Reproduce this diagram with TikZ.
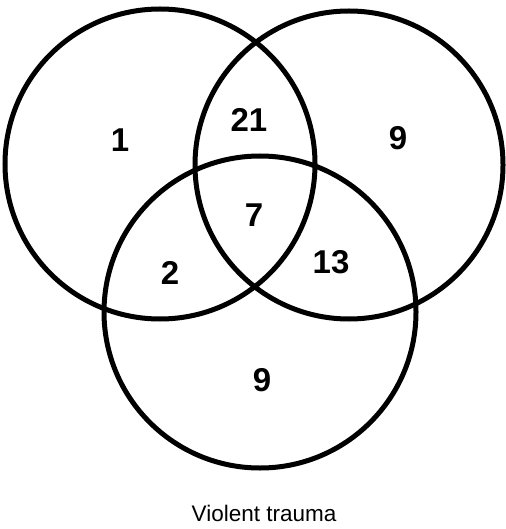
\documentclass[tikz,border=0pt]{standalone}
\usepackage{fontspec}
\setmainfont{Liberation Sans}
\tikzset{
  setcircle/.style={draw, circle, line width=5pt, inner sep=0pt},
  count/.style={font=\bfseries\fontsize{33}{33}\selectfont, inner sep=0pt},
}
\begin{document}
\begin{tikzpicture}[x=1pt,y=-1pt]
	\useasboundingbox (0,0) rectangle (505,529);
	
	% the three sets
	\node[setcircle, minimum size=310pt] (left) at (160,164) {};
	\node[setcircle, minimum size=308pt] (right) at (349,165) {};
	\node[setcircle, minimum size=312pt] (bottom) at (260,312) {};
	
	% counts in each region
	\node[count] (onlyleft) at (120,140) {1};
	\node[count] (leftright) at (249,120) {21};
	\node[count] (onlyright) at (398,138) {9};
	\node[count] (all) at (254,215) {7};
	\node[count] (leftbottom) at (170,273) {2};
	\node[count] (rightbottom) at (331,262) {13};
	\node[count] (onlybottom) at (262,380) {9};
	
	\node[font=\fontsize{22.5}{22.5}\selectfont, inner sep=0pt] (caption) at (264,513) {Violent trauma};
	
\end{tikzpicture}
\end{document}
